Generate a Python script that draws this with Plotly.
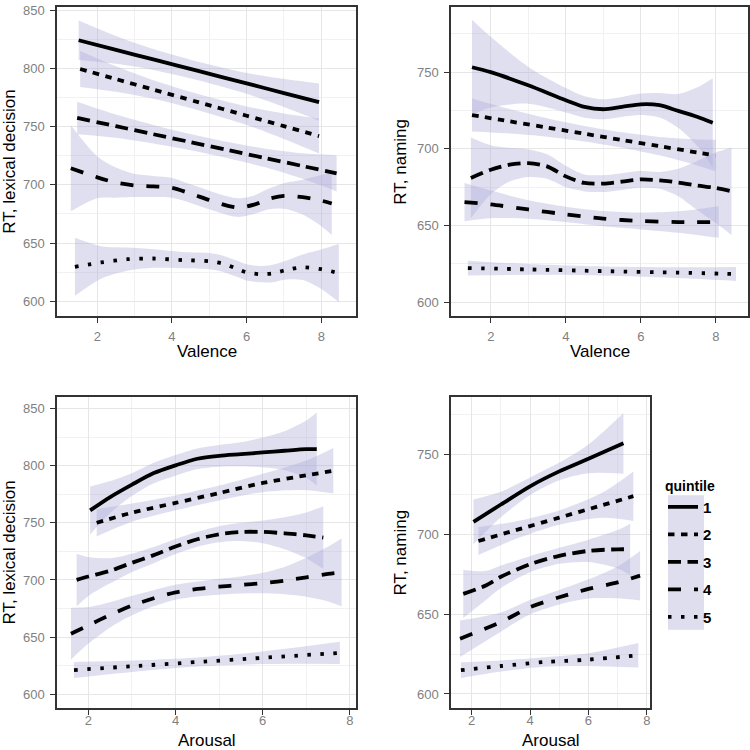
import plotly.graph_objects as go

# ---------------- data ----------------
quintiles = ["1", "2", "3", "4", "5"]

# Panel A: Valence vs RT lexical decision
A_x = [
    [1.5, 2.5, 3.5, 4.7, 6.0, 7.0, 7.94],
    [1.54, 2.5, 3.5, 4.7, 6.0, 7.0, 7.94],
    [1.46, 2.5, 3.5, 4.5, 5.5, 6.5, 7.5, 8.41],
    [1.29, 2.0, 2.5, 3.0, 3.5, 4.0, 4.5, 5.0, 5.5, 5.8, 6.2, 6.6, 7.0, 7.5, 8.0, 8.28],
    [1.4, 2.1, 2.8, 3.5, 4.3, 5.0, 5.35, 5.7, 6.0, 6.35, 6.7, 7.05, 7.5, 8.0, 8.47],
]
A_y = [
    [824.4, 816.1, 807.9, 798.0, 787.3, 779.0, 771.2],
    [799.7, 791.0, 782.0, 771.2, 759.5, 750.5, 742.0],
    [757.6, 750.5, 743.6, 736.8, 729.9, 723.1, 716.2, 710.0],
    [714.3, 706.5, 702.0, 699.5, 698.7, 697.5, 692.5, 687.0, 682.0, 680.5, 683.0, 688.0, 690.5, 689.5, 686.5, 684.0],
    [629.6, 633.3, 636.1, 636.7, 635.3, 634.4, 632.4, 628.4, 624.7, 623.3, 623.9, 626.7, 629.2, 627.5, 624.2],
]
A_hw = [
    [17, 12, 9, 8, 9, 12, 16],
    [15.5, 11, 8, 7, 8, 11, 15],
    [14, 10, 8, 7, 7, 8, 11, 15.6],
    [37, 18, 13, 10, 9, 8.5, 8, 8, 8, 8, 8, 9, 11, 15, 22, 27],
    [25, 14, 10, 8, 7, 7, 7, 7, 7, 7, 7.5, 8, 11, 17, 25],
]

# Panel B: Valence vs RT naming
B_x = [
    [1.5, 2.0, 3.0, 4.0, 4.5, 5.0, 5.5, 6.0, 6.5, 7.0, 7.5, 7.92],
    [1.5, 2.5, 3.5, 4.5, 5.5, 6.5, 7.5, 8.0],
    [1.47, 2.0, 2.5, 3.0, 3.5, 4.0, 4.5, 5.0, 5.5, 6.0, 6.5, 7.0, 7.5, 8.0, 8.42],
    [1.3, 2.0, 3.0, 4.0, 5.0, 6.0, 7.0, 8.08],
    [1.39, 3.0, 5.0, 7.0, 8.54],
]
B_y = [
    [753.2, 750.0, 741.4, 731.7, 727.3, 725.8, 727.3, 729.0, 728.4, 724.7, 720.9, 717.0],
    [722.0, 717.9, 713.9, 709.8, 705.7, 701.7, 697.6, 695.6],
    [681.0, 686.3, 689.6, 690.6, 688.5, 682.0, 677.7, 677.3, 678.6, 680.0, 679.4, 678.0, 676.0, 674.5, 672.3],
    [665.2, 663.7, 660.4, 657.2, 654.4, 652.9, 652.2, 652.2],
    [622.2, 621.3, 620.2, 619.2, 618.3],
]
B_hw = [
    [31, 23, 12, 8, 7, 6.5, 6.5, 7, 8, 11, 19, 29],
    [10.8, 8, 6, 5, 5, 6, 8.5, 10.3],
    [26.4, 16, 11, 9, 8, 7, 5.5, 5.5, 5.5, 5.5, 5.5, 9, 16, 23, 28.5],
    [12.4, 9, 6, 5, 5, 5.5, 7, 10.3],
    [4.8, 3.5, 3, 3.5, 4.5],
]

# Panel C: Arousal vs RT lexical decision
C_x = [
    [2.04, 2.5, 3.0, 3.5, 4.0, 4.5, 5.0, 5.5, 6.0, 6.5, 7.0, 7.24],
    [2.19, 3.0, 4.0, 5.0, 6.0, 7.0, 7.62],
    [1.73, 2.0, 2.5, 3.0, 3.5, 4.0, 4.5, 5.0, 5.5, 6.0, 6.5, 7.0, 7.39],
    [1.6, 2.0, 2.5, 3.0, 3.5, 4.0, 4.5, 5.0, 5.5, 6.0, 6.5, 7.0, 7.5, 7.81],
    [1.67, 3.0, 4.5, 6.0, 7.77],
]
C_y = [
    [760.8, 772.5, 783.4, 793.5, 800.2, 806.0, 808.6, 810.0, 811.5, 813.0, 814.4, 814.4],
    [750.0, 758.8, 767.4, 776.0, 784.8, 791.5, 795.5],
    [700.0, 703.0, 708.0, 715.0, 721.7, 729.2, 735.6, 740.0, 742.0, 742.0, 740.8, 739.0, 737.0],
    [653.0, 660.3, 669.5, 677.6, 684.0, 689.2, 692.1, 694.1, 695.6, 697.3, 699.4, 702.3, 705.2, 706.6],
    [621.2, 624.5, 628.2, 631.9, 636.2],
]
C_hw = [
    [21, 14, 10, 9, 9, 9, 9.5, 10.5, 13, 17, 25, 32],
    [12, 8, 6.5, 6.5, 8, 13, 20],
    [23, 17, 11, 8, 7, 6.5, 6.5, 7, 8, 10, 14, 20, 27.5],
    [22.7, 16, 11, 8.5, 7, 6.5, 6.5, 7, 7.5, 9, 12, 17, 24, 29.7],
    [7, 5, 4, 5.5, 9.7],
]

# Panel D: Arousal vs RT naming
D_x = [
    [2.06, 3.0, 4.0, 5.0, 6.0, 7.2],
    [2.23, 3.5, 5.0, 6.5, 7.54],
    [1.71, 2.5, 3.0, 4.0, 5.0, 6.0, 7.0, 7.43],
    [1.6, 3.0, 4.0, 5.0, 6.0, 7.0, 7.77],
    [1.63, 3.0, 4.5, 6.0, 7.71],
]
D_y = [
    [707.7, 718.5, 729.9, 739.2, 747.1, 756.8],
    [695.7, 702.4, 710.3, 718.2, 723.7],
    [662.6, 668.0, 673.3, 681.2, 686.4, 689.5, 690.5, 690.5],
    [634.6, 645.0, 654.3, 660.5, 665.7, 669.8, 674.0],
    [614.9, 617.5, 620.0, 621.5, 624.2],
]
D_hw = [
    [14, 8, 5.5, 5.5, 9, 19],
    [8.8, 5.5, 4.5, 8, 15.5],
    [15, 9, 7, 5, 5, 7, 12, 16],
    [11.4, 6, 4.5, 4.5, 6, 10, 15.5],
    [5, 3.5, 3, 4, 7.7],
]

x_ticks = [2, 4, 6, 8]
x_minor = [3, 5, 7]
y_ticks_lex = [600, 650, 700, 750, 800, 850]
y_ticks_nam = [600, 650, 700, 750]
y_minor = [625, 675, 725, 775, 825]

x_titles = ["Valence", "Valence", "Arousal", "Arousal"]
y_titles = ["RT, lexical decision", "RT, naming", "RT, lexical decision", "RT, naming"]

# ---------------- styling ----------------
W = H = 750
FONT = "Liberation Sans, Arial, sans-serif"
RIBBON = "rgba(172,172,215,0.38)"
DASHES = ["solid", "6.5px,6.5px", "13px,6.5px", "13px,13px", "3.5px,9.5px"]
LW = 3.8


def px(v):       # screen x (pixels) -> paper x
    return v / W


def py(v):       # screen y (pixels) -> paper y
    return 1 - v / H


# pixel geometry of panels: (left, right, top, bottom)
panels_px = [(57, 356, 3, 314), (451, 748, 3, 314), (57, 356, 395, 708), (451, 650, 395, 708)]
x_ranges = [[0.92, 8.93], [0.94, 8.86], [1.28, 8.14], [1.29, 8.11]]
y_ranges = [[587, 853], [590.7, 792.5], [587.8, 860.1], [591.1, 785.8]]
y_tick_sets = [y_ticks_lex, y_ticks_nam, y_ticks_lex, y_ticks_nam]
x_label_standoff = [2, 2, -6, -6]

panels = [(A_x, A_y, A_hw), (B_x, B_y, B_hw), (C_x, C_y, C_hw), (D_x, D_y, D_hw)]

fig = go.Figure()

for p, (PX, PY, PH) in enumerate(panels):
    xa = "x" if p == 0 else f"x{p+1}"
    ya = "y" if p == 0 else f"y{p+1}"
    # ribbons
    for q in range(5):
        lo = [y - h for y, h in zip(PY[q], PH[q])]
        hi = [y + h for y, h in zip(PY[q], PH[q])]
        fig.add_trace(go.Scatter(x=PX[q], y=lo, mode="lines", line=dict(width=0, shape="spline", smoothing=0.8),
                                 showlegend=False, hoverinfo="skip", xaxis=xa, yaxis=ya))
        fig.add_trace(go.Scatter(x=PX[q], y=hi, mode="lines", line=dict(width=0, shape="spline", smoothing=0.8),
                                 fill="tonexty", fillcolor=RIBBON,
                                 showlegend=False, hoverinfo="skip", xaxis=xa, yaxis=ya))
    # fitted lines
    for q in range(5):
        fig.add_trace(go.Scatter(x=PX[q], y=PY[q], mode="lines", name=quintiles[q],
                                 line=dict(color="black", width=LW, dash=DASHES[q], shape="spline", smoothing=0.8),
                                 showlegend=(p == 0), legendgroup=f"q{q}", xaxis=xa, yaxis=ya))

layout = dict(
    width=W, height=H, margin=dict(l=0, r=0, t=0, b=0),
    paper_bgcolor="white", plot_bgcolor="white",
    font=dict(family=FONT, color="black"),
    showlegend=True,
    legend=dict(title=dict(text="quintile", font=dict(size=14, weight="bold", family=FONT)),
                font=dict(size=15, weight="bold", family=FONT),
                x=px(663), xanchor="left", y=py(471), yanchor="top",
                bgcolor="rgba(0,0,0,0)", tracegroupgap=5, itemwidth=30, traceorder="grouped"),
)

annotations = []
shapes = []
for p in range(4):
    L, R, T, B = panels_px[p]
    sx = "" if p == 0 else str(p + 1)
    common_ax = dict(showline=True, linecolor="#333333", linewidth=1.5, mirror=True, zeroline=False,
                     ticks="outside", ticklen=5, tickwidth=1, tickcolor="#333333",
                     tickfont=dict(size=13, color="#7f7f7f", family=FONT),
                     ticklabeloverflow="allow",
                     showgrid=True, gridcolor="#e6e6e6", gridwidth=1)
    layout["xaxis" + sx] = dict(common_ax, domain=[px(L), px(R)], range=x_ranges[p],
                                tickmode="array", tickvals=x_ticks,
                                ticklabelstandoff=x_label_standoff[p],
                                minor=dict(tickmode="array", tickvals=x_minor, showgrid=True,
                                           gridcolor="#f1f1f1", ticks=""),
                                anchor="y" + sx)
    layout["yaxis" + sx] = dict(common_ax, domain=[py(B), py(T)], range=y_ranges[p],
                                tickmode="array", tickvals=y_tick_sets[p], ticklabelstandoff=3,
                                minor=dict(tickmode="array", tickvals=y_minor, showgrid=True,
                                           gridcolor="#f1f1f1", ticks=""),
                                anchor="x" + sx)
    # axis titles
    xt_y = 349 if p < 2 else 740
    annotations.append(dict(text=x_titles[p], xref="paper", yref="paper",
                            x=px((L + R) / 2), y=py(xt_y), xanchor="center", yanchor="middle",
                            showarrow=False, font=dict(size=17, family=FONT, color="black")))
    yt_x = 10 if p % 2 == 0 else 401
    annotations.append(dict(text=y_titles[p], xref="paper", yref="paper",
                            x=px(yt_x), y=py((T + B) / 2), xanchor="center", yanchor="middle",
                            textangle=-90, showarrow=False, font=dict(size=17, family=FONT, color="black")))

# legend key background
shapes.append(dict(type="rect", xref="paper", yref="paper", layer="below",
                   x0=px(668), x1=px(704), y0=py(629), y1=py(494),
                   fillcolor="rgb(222,222,238)", line=dict(width=0)))

layout["annotations"] = annotations
layout["shapes"] = shapes
fig.update_layout(**layout)
fig.write_html("out.html", config={"displayModeBar": False},
               post_script="document.body.style.margin='0';")
